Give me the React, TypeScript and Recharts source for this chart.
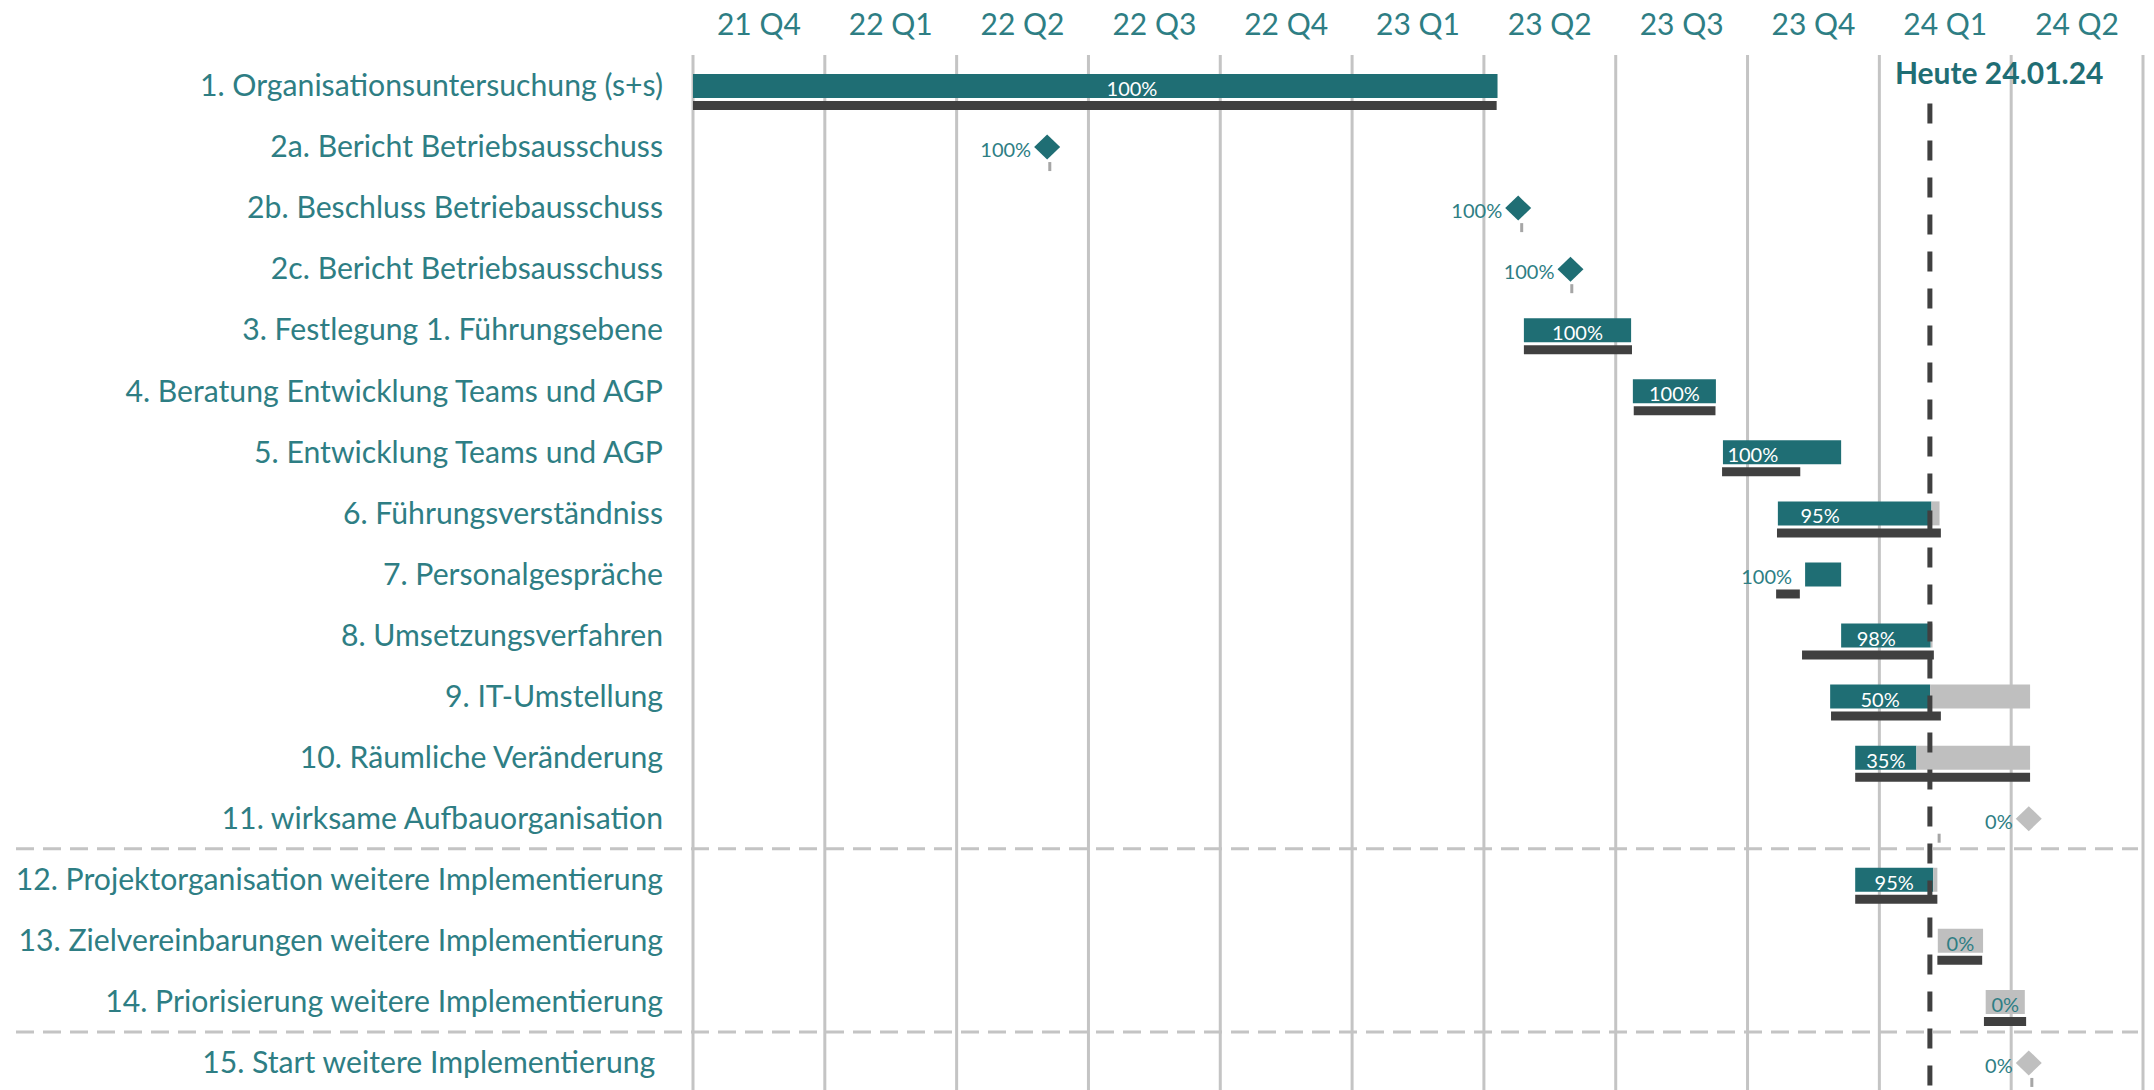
import {
  Bar,
  CartesianGrid,
  ComposedChart,
  LabelList,
  ReferenceArea,
  ReferenceLine,
  XAxis,
  YAxis,
} from "recharts";

// Zeitachse in Monaten ab 1. Okt. 2021 (0 = Beginn 21 Q4)
const quarterLabels = [
  "21 Q4", "22 Q1", "22 Q2", "22 Q3", "22 Q4", "23 Q1",
  "23 Q2", "23 Q3", "23 Q4", "24 Q1", "24 Q2",
];

const tasks = [
  "1. Organisationsuntersuchung (s+s)",
  "2a. Bericht Betriebsausschuss",
  "2b. Beschluss Betriebausschuss",
  "2c. Bericht Betriebsausschuss",
  "3. Festlegung 1. Führungsebene",
  "4. Beratung Entwicklung Teams und AGP",
  "5. Entwicklung Teams und AGP",
  "6. Führungsverständniss",
  "7. Personalgespräche",
  "8. Umsetzungsverfahren",
  "9. IT-Umstellung",
  "10. Räumliche Veränderung",
  "11. wirksame Aufbauorganisation",
  "12. Projektorganisation weitere Implementierung",
  "13. Zielvereinbarungen weitere Implementierung",
  "14. Priorisierung weitere Implementierung",
  "15. Start weitere Implementierung\u00a0",
];

// Fortschritt in %
const progress = [100, 100, 100, 100, 100, 100, 100, 95, 100, 98, 50, 35, 0, 95, 0, 0, 0];

// Ist-Balken (Monate)
const actualStart = [0, null, null, null, 18.91, 21.39, 23.44, 24.69, 25.31, 26.13, 25.88, 26.45, null, 26.45, 28.33, 29.42, null];
const actualEnd = [18.31, null, null, null, 21.35, 23.28, 26.13, 28.37, 26.13, 28.21, 30.43, 30.43, null, 28.32, 29.36, 30.31, null];

// wo die Prozentangabe steht, falls nicht mittig im erledigten Teil
const labelAt = [9.99, null, null, null, null, null, 24.12, 25.65, null, 26.93, null, null, null, null, null, null, null];

// Meilensteine (Raute)
const milestone = [null, 8.06, 18.78, 19.97, null, null, null, null, null, null, null, null, 30.4, null, null, null, 30.4];

// Plan-Balken (dunkel)
const planStart = [0, 8.12, 18.86, 20.0, 18.91, 21.41, 23.42, 24.67, 24.65, 25.24, 25.9, 26.45, 28.36, 26.45, 28.32, 29.38, 30.47];
const planEnd = [18.29, 8.12, 18.86, 20.0, 21.37, 23.27, 25.2, 28.4, 25.19, 28.24, 28.4, 30.43, 28.36, 28.32, 29.34, 30.34, 30.47];

const today = 28.15;
const todayLabel = "Heute 24.01.24";
// Abschnitt zwischen den beiden gestrichelten Trennlinien
const sectionFirst = tasks[13];
const sectionLast = tasks[15];

const TEAL = "#1F6E74";
const TEXT = "#2E7E84";
const GREY = "#BFBFBF";
const DARK = "#404040";
const GRID = "#C4C4C4";
const FONT = "Lato, 'Open Sans', sans-serif";
const PCT_SIZE = 20;

const quarterBounds = quarterLabels.map((_, i) => i * 3).concat([quarterLabels.length * 3]);
const quarterMids = quarterLabels.map((_, i) => i * 3 + 1.5);

const chartData = tasks.map((name, i) => {
  const isMile = milestone[i] != null;
  const start = isMile ? (milestone[i] as number) : (actualStart[i] as number);
  const len = isMile ? 0 : (actualEnd[i] as number) - (actualStart[i] as number);
  return {
    name,
    pad: 0,
    offset: start,
    done: (len * progress[i]) / 100,
    rest: (len * (100 - progress[i])) / 100,
    planOffset: planStart[i],
    plan: planEnd[i] - planStart[i],
    pct: progress[i],
    labelAt: labelAt[i],
    isMile,
  };
});

const rowByName = new Map(chartData.map((d) => [d.name, d]));
const box = (p: any) => p.viewBox ?? p;

// Raute + Prozentangabe für Meilensteine
function MilestoneMark(p: any) {
  const row = rowByName.get(p.value);
  if (!row || !row.isMile) return null;
  const { x, y, width, height } = box(p);
  const cx = x + width;
  const cy = y + height / 2;
  const color = row.pct === 100 ? TEAL : GREY;
  return (
    <g>
      <text x={cx - 16} y={cy + 2} textAnchor="end" dominantBaseline="central" fill={TEXT} fontSize={PCT_SIZE} fontFamily={FONT}>
        {row.pct}%
      </text>
      <path d={`M${cx},${cy - 12.5} L${cx + 13},${cy} L${cx},${cy + 12.5} L${cx - 13},${cy} Z`} fill={color} />
    </g>
  );
}

// kleiner Plan-Strich bei Meilensteinen
function PlanTick(p: any) {
  const row = rowByName.get(p.value);
  if (!row || !row.isMile) return null;
  const { x, y, width, height } = box(p);
  return <rect x={x + width - 1.5} y={y} width={3} height={height} fill="#A6A6A6" />;
}

function DoneLabel(p: any) {
  const row = rowByName.get(p.value);
  if (!row || row.isMile || row.pct === 0) return null;
  const { x, y, width, height } = box(p);
  const cy = y + height / 2 + 2;
  if (width < 45) {
    return (
      <text x={x - 13} y={cy} textAnchor="end" dominantBaseline="central" fill={TEXT} fontSize={PCT_SIZE} fontFamily={FONT}>
        {row.pct}%
      </text>
    );
  }
  // Position im Balken über dessen eigene Skalierung (Breite ~ Dauer)
  const cx = row.labelAt != null ? x + (width * (row.labelAt - row.offset)) / row.done : x + width / 2;
  return (
    <text x={cx} y={cy} textAnchor="middle" dominantBaseline="central" fill="#FFFFFF" fontSize={PCT_SIZE} fontFamily={FONT}>
      {row.pct}%
    </text>
  );
}

function RestLabel(p: any) {
  const row = rowByName.get(p.value);
  if (!row || row.isMile || row.pct !== 0) return null;
  const { x, y, width, height } = box(p);
  return (
    <text x={x + width / 2} y={y + height / 2 + 2} textAnchor="middle" dominantBaseline="central" fill={TEXT} fontSize={PCT_SIZE} fontFamily={FONT}>
      {row.pct}%
    </text>
  );
}

export default function App() {
  return (
    <div style={{ position: "fixed", left: 0, top: 0, width: 2154, height: 1090, overflow: "hidden", background: "#fff" }}>
      <ComposedChart
        width={2154}
        height={1093}
        data={chartData}
        layout="vertical"
        margin={{ top: 0, right: 11, left: 0, bottom: 0 }}
        barGap={3}
      >
        <CartesianGrid xAxisId="grid" horizontal={false} stroke={GRID} strokeWidth={3} />
        <XAxis
          type="number"
          orientation="top"
          domain={[0, 33]}
          ticks={quarterMids}
          tickFormatter={(v: number) => quarterLabels[Math.floor(v / 3)]}
          allowDataOverflow
          height={55}
          axisLine={false}
          tickLine={false}
          tickSize={0}
          tickMargin={20}
          interval={0}
          tick={{ fill: TEXT, fontSize: 30, fontFamily: FONT }}
        />
        <XAxis xAxisId="grid" type="number" domain={[0, 33]} ticks={quarterBounds} allowDataOverflow hide />
        <YAxis
          type="category"
          dataKey="name"
          width={693}
          axisLine={false}
          tickLine={false}
          tickSize={0}
          tickMargin={30}
          interval={0}
          tick={{ fill: TEXT, fontSize: 30.2, fontFamily: FONT }}
        />

        {/* Platzhalter oben, damit der Hauptbalken auf der Zeilenmitte sitzt */}
        <Bar dataKey="pad" stackId="pad" barSize={9} fill="none" isAnimationActive={false} />

        {/* Ist: Versatz + erledigt + offen */}
        <Bar dataKey="offset" stackId="main" barSize={24} fill="none" isAnimationActive={false}>
          <LabelList dataKey="name" content={MilestoneMark} />
        </Bar>
        <Bar dataKey="done" stackId="main" barSize={24} fill={TEAL} isAnimationActive={false}>
          <LabelList dataKey="name" content={DoneLabel} />
        </Bar>
        <Bar dataKey="rest" stackId="main" barSize={24} fill={GREY} isAnimationActive={false}>
          <LabelList dataKey="name" content={RestLabel} />
        </Bar>

        {/* Plan */}
        <Bar dataKey="planOffset" stackId="plan" barSize={9} fill="none" isAnimationActive={false}>
          <LabelList dataKey="name" content={PlanTick} />
        </Bar>
        <Bar dataKey="plan" stackId="plan" barSize={9} fill={DARK} isAnimationActive={false} />

        {/* gestrichelte Trennlinien oberhalb von 12. und 15. */}
        <ReferenceArea
          y1={sectionFirst}
          y2={sectionLast}
          ifOverflow="visible"
          shape={(p: any) => (
            <g>
              <line x1={16} y1={p.y} x2={p.x + p.width - 5} y2={p.y} stroke={GRID} strokeWidth={3} strokeDasharray="18 9" />
              <line x1={16} y1={p.y + p.height} x2={p.x + p.width - 5} y2={p.y + p.height} stroke={GRID} strokeWidth={3} strokeDasharray="18 9" />
            </g>
          )}
        />

        <ReferenceLine
          x={today}
          ifOverflow="visible"
          shape={(p: any) => (
            <line x1={p.x1} y1={p.y1 + 48.5} x2={p.x2} y2={p.y2} stroke={DARK} strokeWidth={5} strokeDasharray="20 17" />
          )}
          label={{
            content: (p: any) => {
              const vb = p.viewBox ?? {};
              return (
                <text x={vb.x - 35} y={(vb.y ?? 0) + 28.5} fill={TEAL} fontSize={30} fontWeight="bold" fontFamily={FONT}>
                  {todayLabel}
                </text>
              );
            },
          }}
        />
      </ComposedChart>
    </div>
  );
}
